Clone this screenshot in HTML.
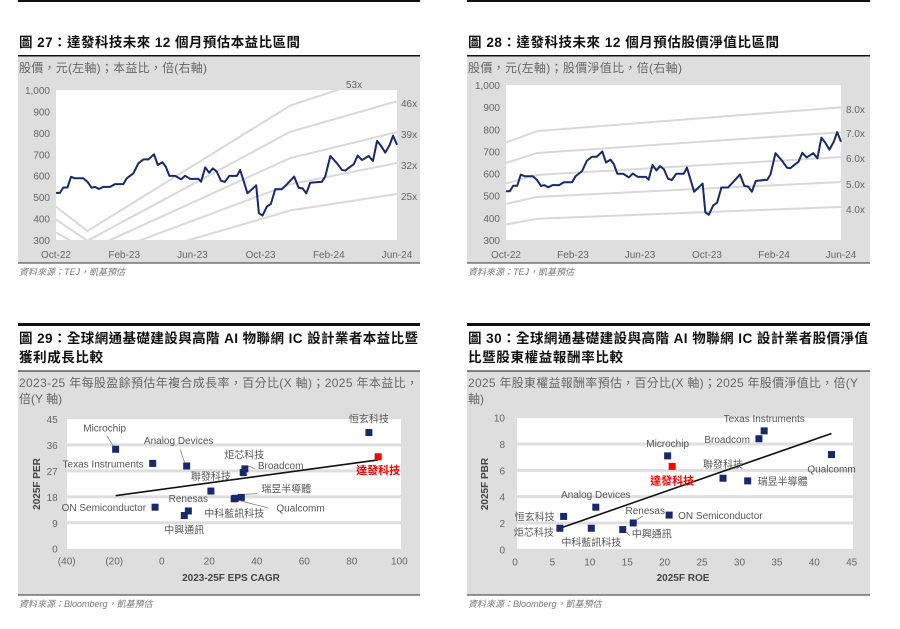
<!DOCTYPE html>
<html><head><meta charset="utf-8">
<style>
html,body{margin:0;padding:0;background:#fff;}
svg{display:block;font-family:"Liberation Sans","Noto Sans CJK TC",sans-serif;}
.tt{font-weight:bold;font-size:13.5px;fill:#111;}
.st{font-size:12px;fill:#666;}
.tk{font-size:10px;fill:#666;}
.src{font-size:9px;fill:#777;font-style:italic;}
.lb{font-size:10px;fill:#555;}
</style></head>
<body>
<svg id="root" width="900" height="629" viewBox="0 0 900 629">
<defs>
<clipPath id="c27"><rect x="56" y="90" width="341" height="150"/></clipPath>
<clipPath id="c28"><rect x="506" y="85" width="335" height="155"/></clipPath>
</defs>
<!-- static frames -->
<g>
<rect x="18" y="0" width="402" height="2" fill="#111"/>
<text class="tt" x="19" y="47" textLength="281">圖 27：達發科技未來 12 個月預估本益比區間</text>
<rect x="18" y="56" width="402" height="207" fill="#dedede"/>
<rect x="18" y="55" width="402" height="1.5" fill="#111"/>
<rect x="18" y="262.5" width="402" height="1" fill="#333"/>
<text class="st" x="19" y="72" textLength="188">股價，元(左軸)；本益比，倍(右軸)</text>
<rect x="56" y="90" width="341" height="150" fill="#fff"/>
<text class="src" x="19" y="275">資料來源：TEJ，凱基預估</text>
</g>
<g>
<rect x="467" y="0" width="403" height="2" fill="#111"/>
<text class="tt" x="468" y="47" textLength="311">圖 28：達發科技未來 12 個月預估股價淨值比區間</text>
<rect x="467" y="56" width="403" height="207" fill="#dedede"/>
<rect x="467" y="55" width="403" height="1.5" fill="#111"/>
<rect x="467" y="262.5" width="403" height="1" fill="#333"/>
<text class="st" x="468" y="72" textLength="214">股價，元(左軸)；股價淨值比，倍(右軸)</text>
<rect x="506" y="85" width="335" height="155" fill="#fff"/>
<text class="src" x="468" y="275">資料來源：TEJ，凱基預估</text>
</g>
<g>
<rect x="18" y="323" width="402" height="3" fill="#111"/>
<text class="tt" x="19" y="343" textLength="399">圖 29：全球網通基礎建設與高階 AI 物聯網 IC 設計業者本益比暨</text>
<text class="tt" x="19" y="362" textLength="84">獲利成長比較</text>
<rect x="18" y="371" width="402" height="224" fill="#dedede"/>
<rect x="18" y="370.5" width="402" height="1" fill="#111"/>
<rect x="18" y="594.5" width="402" height="1" fill="#333"/>
<text class="st" x="19" y="387" textLength="399">2023-25 年每股盈餘預估年複合成長率，百分比(X 軸)；2025 年本益比，</text>
<text class="st" x="19" y="403">倍(Y 軸)</text>
<rect x="67" y="419" width="334" height="130" fill="#fff"/>
<text x="231" y="581" text-anchor="middle" font-size="10" font-weight="bold" fill="#444">2023-25F EPS CAGR</text>
<text x="40" y="484" text-anchor="middle" font-size="10" font-weight="bold" fill="#444" transform="rotate(-90 40 484)">2025F PER</text>
<text class="src" x="19" y="607">資料來源：Bloomberg，凱基預估</text>
</g>
<g>
<rect x="467" y="323" width="403" height="3" fill="#111"/>
<text class="tt" x="468" y="343" textLength="400">圖 30：全球網通基礎建設與高階 AI 物聯網 IC 設計業者股價淨值</text>
<text class="tt" x="468" y="362" textLength="155">比暨股東權益報酬率比較</text>
<rect x="467" y="371" width="403" height="224" fill="#dedede"/>
<rect x="467" y="370.5" width="403" height="1" fill="#111"/>
<rect x="467" y="594.5" width="403" height="1" fill="#333"/>
<text class="st" x="468" y="387" textLength="390">2025 年股東權益報酬率預估，百分比(X 軸)；2025 年股價淨值比，倍(Y</text>
<text class="st" x="468" y="403">軸)</text>
<rect x="517" y="418" width="336" height="131" fill="#fff"/>
<text x="683" y="581" text-anchor="middle" font-size="10" font-weight="bold" fill="#444">2025F ROE</text>
<text x="488" y="484" text-anchor="middle" font-size="10" font-weight="bold" fill="#444" transform="rotate(-90 488 484)">2025F PBR</text>
<text class="src" x="468" y="607">資料來源：Bloomberg，凱基預估</text>
</g>
</svg>
<script>
// ---- shared price series (months since Oct-22) ----
const priceT = [0,0.23,0.43,0.67,0.88,1.12,1.60,1.84,2.09,2.29,2.52,2.78,3.17,3.46,3.95,4.15,4.54,4.83,5.13,5.42,5.75,5.97,6.24,6.44,6.65,6.99,7.34,7.57,7.87,8.36,8.51,8.75,8.98,9.20,9.43,9.67,9.90,10.16,10.61,10.80,11.00,11.23,11.74,11.90,12.11,12.37,12.60,12.86,13.25,13.54,13.97,14.23,14.46,14.68,14.91,15.60,15.79,16.09,16.48,16.77,16.97,17.26,17.46,17.69,17.95,18.34,18.59,18.83,19.06,19.31,19.57,19.77,20];
const priceV = [520,520,545,545,595,588,588,572,544,548,538,548,548,561,561,588,611,658,676,676,700,650,663,642,599,599,583,600,585,585,572,639,614,634,619,577,571,599,599,627,577,518,555,425,414,456,468,537,537,560,596,544,541,518,567,572,596,692,658,627,624,642,653,694,673,692,669,762,740,708,744,787,744];
const dateTicks = ["Oct-22","Feb-23","Jun-23","Oct-23","Feb-24","Jun-24"];
const dateTickT = [0,4,8,12,16,20];
const priceTicks = [300,400,500,600,700,800,900,1000];
// PE band
const peMultiples = [25,32,39,46,53];
const epsT = [0,1.84,13.74,20];
const epsV = [8.6,6.45,17.5,20.6];
// PB band
const pbMultiples = [4,5,6,7,8];
const bvpsT = [0,1.87,20];
const bvpsV = [92.6,99,112.4];
// scatter 29
const s29Names = ["Microchip","Texas Instruments","Analog Devices","炬芯科技","Broadcom","聯發科技","Renesas","中興通訊","ON Semiconductor","瑞昱半導體","Qualcomm","中科藍訊科技","恒玄科技","達發科技"];
const s29X = [-19.4,-3.8,10.5,34.3,35,20.7,11.2,9.5,-2.8,33.5,31,30.5,87.2,91.1];
const s29Y = [34.5,29.6,28.7,26.4,27.7,20.0,13.1,11.5,14.4,17.8,17.5,17.3,40.3,31.9];
const s29TrendX = [-19.4,91];
const s29TrendY = [18.4,30.8];
const s29XTicks = [-40,-20,0,20,40,60,80,100];
const s29XTickLabels = ["(40)","(20)","0","20","40","60","80","100"];
const s29YTicks = [0,9,18,27,36,45];
// scatter 30
const s30Names = ["Texas Instruments","Broadcom","Qualcomm","Microchip","達發科技","聯發科技","瑞昱半導體","ON Semiconductor","Analog Devices","恒玄科技","炬芯科技","中科藍訊科技","中興通訊","Renesas"];
const s30X = [33.3,32.6,42.3,20.4,21.0,27.8,31.1,20.6,10.8,6.5,6.0,10.2,14.4,15.8];
const s30Y = [9.0,8.4,7.2,7.1,6.3,5.4,5.2,2.6,3.2,2.5,1.6,1.6,1.5,2.0];
const s30TrendX = [6.0,42.3];
const s30TrendY = [1.6,8.8];
const s30XTicks = [0,5,10,15,20,25,30,35,40,45];
const s30YTicks = [0,2,4,6,8,10];

// ---- layout (not data) ----
const L29 = [[-11,-18,"middle",1],[-9,4,"end",0],[-8,-22,"middle",1],[1,-14,"middle",0],[13,0,"start",1],[0,-11,"middle",0],[0,-9,"middle",0],[0,18,"middle",0],[-9,4,"end",0],[20,-5,"start",1],[41,13,"start",1],[0,18,"middle",0],[0,-10,"middle",0],[0,17,"middle",0]];
const L30 = [[0,-9,"middle",0],[-9,4,"end",0],[0,18,"middle",0],[0,-9,"middle",0],[0,18,"middle",0],[0,-10,"middle",0],[10,4,"start",0],[9,4,"start",0],[0,-9,"middle",0],[-9,4,"end",0],[-6,8,"end",0],[0,18,"middle",0],[9,8,"start",1],[12,-9,"middle",1]];

const NS = "http://www.w3.org/2000/svg";
const root = document.getElementById("root");
function mk(tag, attrs, parent){const e=document.createElementNS(NS,tag);for(const k in attrs)e.setAttribute(k,attrs[k]);(parent||root).appendChild(e);return e;}

function lineChart(cfg){
  const g = mk("g",{});
  
  
  const xs = t => cfg.x0 + t/20*(cfg.x1-cfg.x0);
  const ys = v => cfg.y1 - (v-300)/700*(cfg.y1-cfg.y0);
  const bands = mk("g",{"clip-path":"url(#"+cfg.clip+")"},g);
  cfg.mult.forEach((m,i)=>{
    const pts = cfg.bT.map((t,j)=>xs(t)+","+ys(cfg.bV[j]*m)).join(" ");
    const pl = mk("polyline",{points:pts,fill:"none",stroke:"#d8d8d8","stroke-width":2},bands);
    
    
  });
  cfg.multLabels.forEach((lab,i)=>{
    const tx = mk("text",{x:lab[1],y:lab[2]+4,class:"tk"},g);
    tx.textContent = lab[0];
    
    
  });
  priceTicks.forEach(v=>{
    const tx = mk("text",{x:cfg.x0-6,y:ys(v)+4,class:"tk","text-anchor":"end"},g);
    tx.textContent = v.toLocaleString("en-US");
    
    
  });
  dateTicks.forEach((d,i)=>{
    const tx = mk("text",{x:xs(dateTickT[i]),y:cfg.y1+18,class:"tk","text-anchor":"middle"},g);
    tx.textContent = d;
    
    
  });
  const pl = mk("polyline",{points:priceT.map((t,i)=>xs(t)+","+ys(priceV[i])).join(" "),fill:"none",stroke:"#15296b","stroke-width":2,"stroke-linejoin":"round"},g);
  
  
}
lineChart({name:"pe-band-chart",x0:56,x1:397,y0:90,y1:240,clip:"c27",mult:peMultiples,bT:epsT,bV:epsV,
  multLabels:[["53x",346,84],["46x",401,103],["39x",401,134],["32x",401,165],["25x",401,196]]});
lineChart({name:"pb-band-chart",x0:506,x1:841,y0:85,y1:240,clip:"c28",mult:pbMultiples,bT:bvpsT,bV:bvpsV,
  multLabels:[["8.0x",846,109],["7.0x",846,133],["6.0x",846,158],["5.0x",846,184],["4.0x",846,209]]});

function scatter(cfg){
  const g = mk("g",{});
  
  
  const xs = v => cfg.px0 + (v-cfg.xmin)/(cfg.xmax-cfg.xmin)*(cfg.px1-cfg.px0);
  const ys = v => cfg.py1 - (v-cfg.ymin)/(cfg.ymax-cfg.ymin)*(cfg.py1-cfg.py0);
  cfg.yT.forEach(v=>{
    if(v>cfg.ymin && v<cfg.ymax){
      const r = mk("rect",{x:cfg.gx0,y:ys(v)-1.5,width:cfg.gx1-cfg.gx0,height:3,fill:"#dedede"},g);
      
      
    }
    const tx = mk("text",{x:cfg.px0-cfg.ylabOff,y:ys(v)+4,class:"tk","text-anchor":"end"},g);
    tx.textContent = String(v);
    
    
  });
  cfg.xT.forEach((v,i)=>{
    const tx = mk("text",{x:xs(v),y:cfg.py1+16,class:"tk","text-anchor":"middle"},g);
    tx.textContent = cfg.xTL[i];
    
    
  });
  const tl = mk("line",{x1:xs(cfg.tx[0]),y1:ys(cfg.ty[0]),x2:xs(cfg.tx[1]),y2:ys(cfg.ty[1]),stroke:"#111","stroke-width":1.6},g);
  
  
  cfg.names.forEach((n,i)=>{
    const px = xs(cfg.X[i]), py = ys(cfg.Y[i]);
    const red = n==="達發科技";
    const sq = mk("rect",{x:px-3.5,y:py-3.5,width:7,height:7,fill:red?"#ff0000":"#15296b"},g);
    
    
    const o = cfg.lay[i];
    if(o[3]){
      const ld = mk("line",{x1:px+(o[0]>0?3:-2),y1:py+(o[1]>0?2:-3),x2:px+o[0]*0.8,y2:py+o[1]*0.75,stroke:"#777","stroke-width":0.7},g);
      
      
    }
    const tx = mk("text",{x:px+o[0],y:py+o[1],"text-anchor":o[2],class:"lb"},g);
    if(red){tx.setAttribute("fill","#ff0000");tx.setAttribute("font-weight","bold");tx.setAttribute("style","fill:#ff0000;font-size:11px");}
    tx.textContent = n;
    
    
  });
}
scatter({name:"per-vs-eps-growth-scatter",names:s29Names,X:s29X,Y:s29Y,tx:s29TrendX,ty:s29TrendY,
  xmin:-40,xmax:100,ymin:0,ymax:45,px0:66.7,px1:399.3,py0:419,py1:548.7,gx0:67,gx1:401,ylabOff:9,
  xT:s29XTicks,xTL:s29XTickLabels,yT:s29YTicks,lay:L29});
scatter({name:"pbr-vs-roe-scatter",names:s30Names,X:s30X,Y:s30Y,tx:s30TrendX,ty:s30TrendY,
  xmin:0,xmax:45,ymin:0,ymax:10,px0:515,px1:851.7,py0:417.7,py1:549.3,gx0:517,gx1:853,ylabOff:10,
  xT:s30XTicks,xTL:s30XTicks.map(String),yT:s30YTicks,lay:L30});
</script>
</body></html>
